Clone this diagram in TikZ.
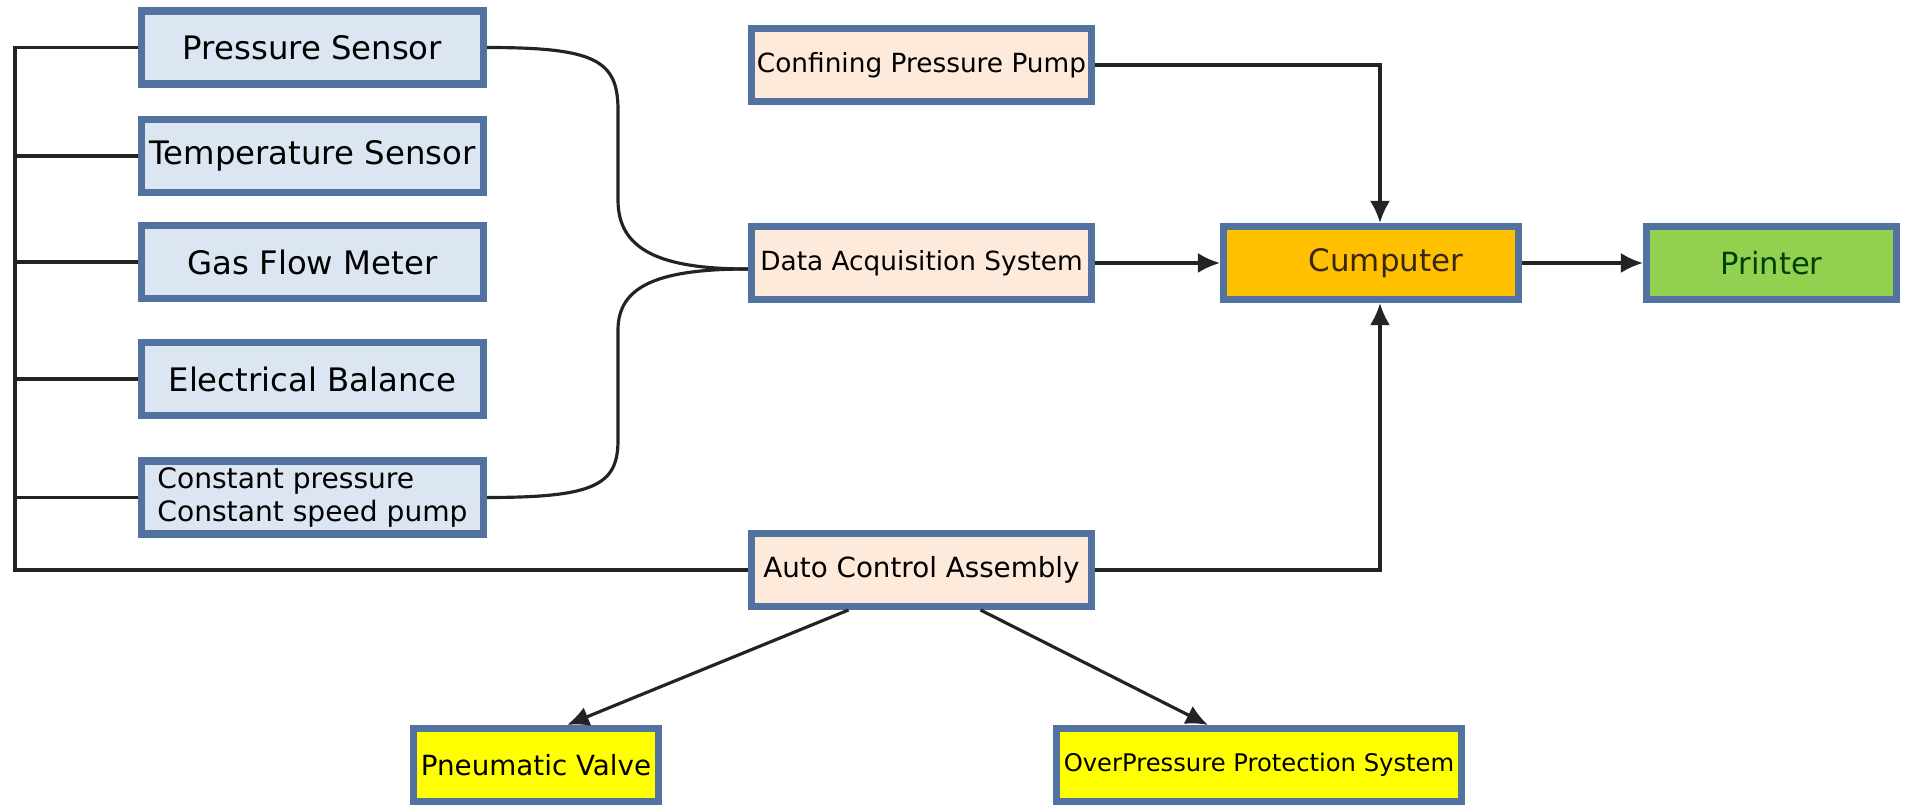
\documentclass[tikz,border=0pt]{standalone}
\usepackage{fontspec}
\setmainfont{DejaVu Sans}
\usetikzlibrary{arrows.meta,positioning}

\definecolor{boxline}{RGB}{82,114,160}
\definecolor{sensorfill}{RGB}{220,230,243}
\definecolor{peachfill}{RGB}{253,234,218}
\definecolor{computerfill}{RGB}{255,192,0}
\definecolor{printerfill}{RGB}{146,208,80}
\definecolor{valvefill}{RGB}{255,255,0}
\definecolor{linkgray}{RGB}{35,35,35}

\tikzset{
	blockbox/.style={draw=boxline, line width=2pt, minimum height=0.73cm, inner sep=1pt},
	sensorbox/.style={blockbox, fill=sensorfill, minimum width=3.42cm, font=\fontsize{9.2}{11}\selectfont},
	peachbox/.style={blockbox, fill=peachfill, minimum width=3.40cm, font=\fontsize{7.5}{9}\selectfont},
	link/.style={draw=linkgray, line width=0.9pt},
	arrowlink/.style={link, -{Latex[length=2.2mm, width=2mm]}},
}

\begin{document}
\begin{tikzpicture}
        \useasboundingbox (0,0) rectangle (19.07,-8.06);

	\node[sensorbox] (pressure) at (3.125,-0.475) {Pressure Sensor\hspace{0.25cm}};
	\node[sensorbox] (temperature) at (3.125,-1.56) {Temperature Sensor};
	\node[sensorbox] (gasflow) at (3.125,-2.62) {Gas Flow Meter\hspace{0.3cm}};
	\node[sensorbox] (balance) at (3.125,-3.79) {Electrical Balance\hspace{0.15cm}};
	\node[sensorbox, align=left, font=\fontsize{8}{9.4}\selectfont] (pump) at (3.125,-4.975) {Constant pressure\\Constant speed pump};

	\node[peachbox] (confining) at (9.215,-0.65) {Confining Pressure Pump};
	\node[peachbox] (acquisition) at (9.215,-2.63) {Data Acquisition System};
	\node[peachbox, font=\fontsize{7.9}{9}\selectfont] (autocontrol) at (9.215,-5.70) {Auto Control Assembly};

	\node[blockbox, fill=computerfill, minimum width=2.95cm, text=black!70!brown, font=\fontsize{8.8}{10}\selectfont] (computer) at (13.71,-2.63) {\hspace{0.3cm}Cumputer};
	\node[blockbox, fill=printerfill, minimum width=2.50cm, text=black!75!green, font=\fontsize{8.7}{10}\selectfont] (printer) at (17.715,-2.63) {Printer};

	\node[blockbox, fill=valvefill, minimum width=2.45cm, font=\fontsize{7.9}{9}\selectfont] (valve) at (5.36,-7.65) {Pneumatic Valve};
	\node[blockbox, fill=valvefill, minimum width=4.05cm, font=\fontsize{6.9}{8}\selectfont] (overpressure) at (12.59,-7.65) {OverPressure Protection System};

        % bus on the left
	\coordinate (bustop) at (0.15,-0.475);
	\draw[link] (autocontrol.west) -- (autocontrol.west -| bustop) -- (bustop) -- (pressure.west);
	\draw[link] (temperature.west) -- (temperature.west -| bustop);
	\draw[link] (gasflow.west) -- (gasflow.west -| bustop);
	\draw[link] (balance.west) -- (balance.west -| bustop);
	\draw[link] (pump.west) -- (pump.west -| bustop);

        % curves into the acquisition system
	\coordinate (merge) at ([yshift=-0.06cm]acquisition.west);
	\draw[link] (pressure.east) .. controls (5.95,-0.475) and (6.18,-0.6) .. (6.18,-1.1) -- (6.18,-2.0) .. controls (6.18,-2.5) and (6.6,-2.69) .. (merge);
	\draw[link] (pump.east) .. controls (5.95,-4.975) and (6.18,-4.85) .. (6.18,-4.4) -- (6.18,-3.3) .. controls (6.18,-2.85) and (6.6,-2.69) .. (merge);

	\draw[arrowlink] (acquisition.east) -- (computer.west);
	\draw[arrowlink] (confining.east) -| ([xshift=0.09cm]computer.north);
	\draw[arrowlink] (autocontrol.east) -| ([xshift=0.09cm]computer.south);
	\draw[arrowlink] (computer.east) -- (printer.west);

	\draw[arrowlink] ([xshift=-0.73cm]autocontrol.south) -- ([xshift=0.31cm]valve.north);
	\draw[arrowlink] ([xshift=0.59cm]autocontrol.south) -- ([xshift=-0.51cm]overpressure.north);

\end{tikzpicture}
\end{document}
